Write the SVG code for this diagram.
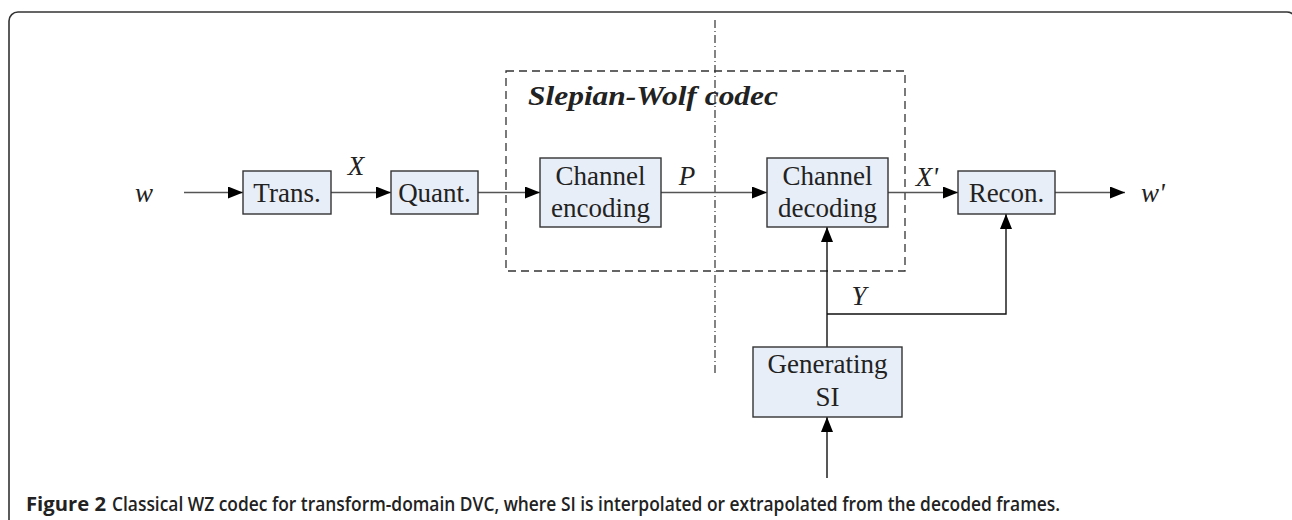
<svg xmlns="http://www.w3.org/2000/svg" width="1292" height="520" viewBox="0 0 1292 520">
<defs>
<style>
.box{fill:#e8eef7;stroke:#333;stroke-width:1.4}
.lbl{font-family:"Liberation Serif","Times New Roman",serif;font-size:27px;fill:#222;text-anchor:middle}
.var{font-family:"Liberation Serif","Times New Roman",serif;font-size:27px;font-style:italic;fill:#222;text-anchor:middle}
.title{font-family:"Liberation Serif","Times New Roman",serif;font-size:28px;font-style:italic;font-weight:bold;fill:#222}
.h{stroke:#555;stroke-width:1.5;fill:none}
.v{stroke:#111;stroke-width:1.4;fill:none}
.cap{font-family:"Open Sans","DejaVu Sans",sans-serif;font-size:20px;fill:#222}
</style>
<marker id="arr" viewBox="0 0 15 12" refX="15" refY="6" markerWidth="15" markerHeight="12" markerUnits="userSpaceOnUse" orient="auto">
<path d="M0,0 L15,6 L0,12 Z" fill="#000"/>
</marker>
</defs>
<rect x="9" y="12" width="1287" height="600" rx="9" fill="none" stroke="#333" stroke-width="1.6"/>

<g id="sw-region">
<rect x="506" y="71" width="399" height="200" fill="none" stroke="#333" stroke-width="1.3" stroke-dasharray="8,5"/>
<text class="title" x="528" y="105" textLength="250" lengthAdjust="spacingAndGlyphs">Slepian-Wolf codec</text>
</g>
<g id="divider">
<line x1="715" y1="20" x2="715" y2="375" stroke="#333" stroke-width="1.2" stroke-dasharray="8,3,1,3"/>
</g>

<g id="connectors">
<line class="h" x1="184" y1="192.5" x2="243" y2="192.5" marker-end="url(#arr)"/>
<line class="h" x1="331" y1="192.5" x2="391" y2="192.5" marker-end="url(#arr)"/>
<line class="h" x1="478" y1="192.5" x2="540" y2="192.5" marker-end="url(#arr)"/>
<line class="h" x1="661" y1="192.5" x2="767" y2="192.5" marker-end="url(#arr)"/>
<line class="h" x1="888" y1="192.5" x2="958" y2="192.5" marker-end="url(#arr)"/>
<line class="h" x1="1055" y1="192.5" x2="1125" y2="192.5" marker-end="url(#arr)"/>
<line class="v" x1="827" y1="347" x2="827" y2="227" marker-end="url(#arr)"/>
<polyline class="v" points="827,314 1006,314 1006,214" marker-end="url(#arr)"/>
<line class="v" x1="827" y1="478" x2="827" y2="417" marker-end="url(#arr)"/>
<text class="var" x="356" y="175">X</text>
<text class="var" x="687" y="185">P</text>
<text class="var" x="927" y="186">X'</text>
<text class="var" x="859" y="305">Y</text>
</g>

<g id="w-in"><text class="var" x="144" y="202">w</text></g>
<g id="trans"><rect class="box" x="243" y="171" width="88" height="43"/><text class="lbl" x="287" y="202">Trans.</text></g>
<g id="quant"><rect class="box" x="391" y="171" width="87" height="43"/><text class="lbl" x="434.5" y="202">Quant.</text></g>
<g id="chenc"><rect class="box" x="540" y="158" width="121" height="69"/><text class="lbl" x="600.5" y="185">Channel</text><text class="lbl" x="600.5" y="217">encoding</text></g>
<g id="chdec"><rect class="box" x="767" y="158" width="121" height="69"/><text class="lbl" x="827.5" y="185">Channel</text><text class="lbl" x="827.5" y="217">decoding</text></g>
<g id="recon"><rect class="box" x="958" y="171" width="97" height="43"/><text class="lbl" x="1006.5" y="202">Recon.</text></g>
<g id="w-out"><text class="var" x="1153" y="202">w'</text></g>
<g id="gensi"><rect class="box" x="753" y="347" width="149" height="70"/><text class="lbl" x="827.5" y="373">Generating</text><text class="lbl" x="827.5" y="406">SI</text></g>

<g id="caption">
<text class="cap" x="26" y="511" font-weight="bold" textLength="80" lengthAdjust="spacingAndGlyphs">Figure 2</text>
<text class="cap" x="112" y="511" font-weight="600" textLength="948" lengthAdjust="spacingAndGlyphs">Classical WZ codec for transform-domain DVC, where SI is interpolated or extrapolated from the decoded frames.</text>
</g>
</svg>
